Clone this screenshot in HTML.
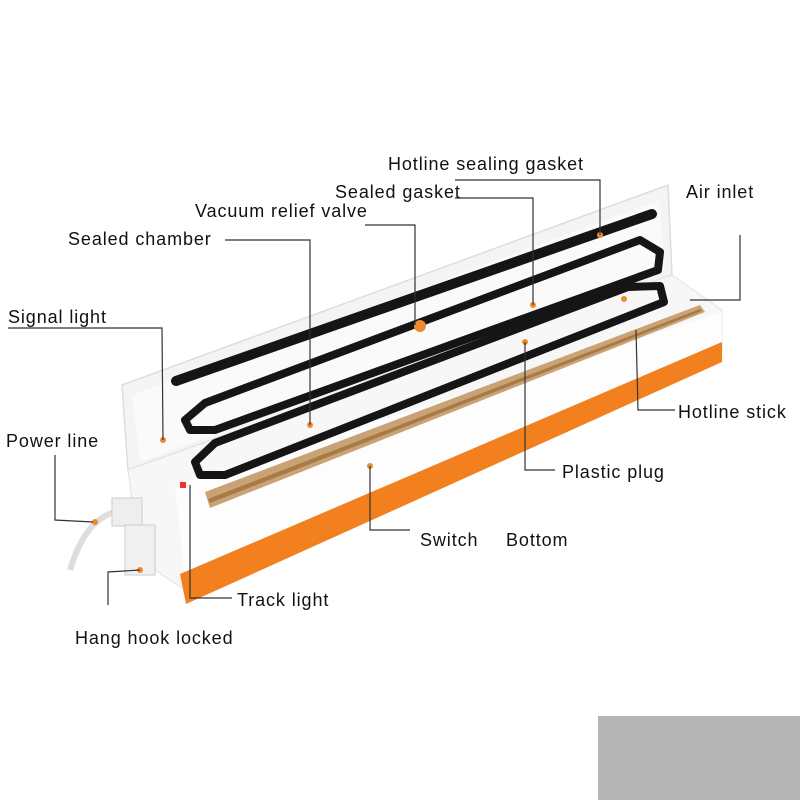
<!DOCTYPE html>
<html><head><meta charset="utf-8"><style>
html,body{margin:0;padding:0;background:#fff;}
svg{display:block;}
text{font-family:"Liberation Sans",sans-serif;font-size:18px;letter-spacing:0.9px;fill:#111;}
</style></head><body>
<svg width="800" height="800" viewBox="0 0 800 800">
<rect width="800" height="800" fill="#fff"/>
<rect x="598" y="716" width="202" height="84" fill="#b5b5b5"/>
<polygon points="122,385 668,185 672,275 128,470" fill="#f4f4f4" stroke="#ddd" stroke-width="1.5"/>
<polygon points="132,395 660,200 664,270 140,462" fill="#fafafa"/>
<polygon points="128,470 672,275 722,310 722,350 185,590 140,560" fill="#f7f7f7" stroke="#e2e2e2"/>
<polygon points="175,485 722,312 722,345 185,580" fill="#fdfdfd"/>
<polygon points="180,574 722,342 722,362 186,604" fill="#f2801f"/>
<polygon points="205,492 700,305 705,312 210,508" fill="#c9a276"/>
<polygon points="208,499 700,309 702,311 210,503" fill="#a87a46"/>
<line x1="176" y1="381" x2="652" y2="214" stroke="#151515" stroke-width="10" stroke-linecap="round"/>
<polygon points="205,403 640,240 660,252 658,270 215,430 190,430 185,420" fill="none" stroke="#151515" stroke-width="8" stroke-linejoin="round"/>
<polygon points="215,443 628,287 660,286 664,302 225,475 200,475 195,462" fill="none" stroke="#151515" stroke-width="8" stroke-linejoin="round"/>
<path d="M70,570 Q85,520 115,512" fill="none" stroke="#ddd" stroke-width="6"/>
<rect x="112" y="498" width="30" height="28" fill="#eee" stroke="#ccc"/>
<rect x="125" y="525" width="30" height="50" fill="#f0f0f0" stroke="#ccc"/>
<rect x="180" y="482" width="6" height="6" fill="#e33"/>
<g fill="#f08a30">
<circle cx="600" cy="235" r="3"/><circle cx="533" cy="305" r="3"/><circle cx="420" cy="326" r="6"/>
<circle cx="310" cy="425" r="3"/><circle cx="624" cy="299" r="3"/><circle cx="525" cy="342" r="3"/>
<circle cx="163" cy="440" r="3"/><circle cx="370" cy="466" r="3"/><circle cx="140" cy="570" r="3"/><circle cx="95" cy="522" r="3"/>
</g>
<g fill="none" stroke="#333" stroke-width="1.2">
<polyline points="455,180 600,180 600,235"/>
<polyline points="455,198 533,198 533,305"/>
<polyline points="365,225 415,225 415,325"/>
<polyline points="225,240 310,240 310,425"/>
<polyline points="740,235 740,300 690,300"/>
<polyline points="8,328 162,328 163,440"/>
<polyline points="55,455 55,520 93,522"/>
<polyline points="636,330 638,410 675,410"/>
<polyline points="525,342 525,470 555,470"/>
<polyline points="370,466 370,530 410,530"/>
<polyline points="190,485 190,598 232,598"/>
<polyline points="108,605 108,572 140,570"/>
</g>
<text x="388" y="170">Hotline sealing gasket</text>
<text x="335" y="198">Sealed gasket</text>
<text x="686" y="198">Air inlet</text>
<text x="195" y="217">Vacuum relief valve</text>
<text x="68" y="245">Sealed chamber</text>
<text x="8" y="323">Signal light</text>
<text x="6" y="447">Power line</text>
<text x="678" y="418">Hotline stick</text>
<text x="562" y="478">Plastic plug</text>
<text x="420" y="546">Switch</text>
<text x="506" y="546">Bottom</text>
<text x="237" y="606">Track light</text>
<text x="75" y="644">Hang hook locked</text>
</svg>
</body></html>
